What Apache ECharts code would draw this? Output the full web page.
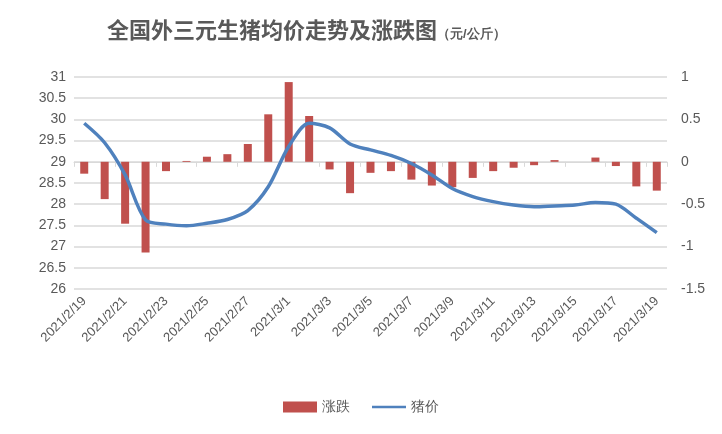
<!DOCTYPE html><html><head><meta charset="utf-8"><script src="https://cdn.jsdelivr.net/npm/echarts@6/dist/echarts.min.js"></script></head><body style="margin:0;background:#fff"><div id="c" style="width:722px;height:434px"></div><script>
const categories=[];for(let d=19;d<=28;d++)categories.push('2021/2/'+d);for(let d=1;d<=19;d++)categories.push('2021/3/'+d);
const price=[29.91,29.45,28.69,27.63,27.53,27.49,27.55,27.64,27.85,28.41,29.36,29.91,29.80,29.42,29.28,29.15,28.96,28.69,28.37,28.18,28.06,27.98,27.94,27.96,27.98,28.04,28.00,27.67,27.33];
const change=[-0.14,-0.44,-0.73,-1.07,-0.11,0.01,0.06,0.09,0.21,0.56,0.94,0.54,-0.09,-0.37,-0.13,-0.11,-0.21,-0.28,-0.30,-0.19,-0.11,-0.07,-0.04,0.02,0,0.05,-0.05,-0.29,-0.34];
const ch=echarts.init(document.getElementById('c'));
const lab={color:'#595959',fontSize:14,fontFamily:'Liberation Sans'};
ch.setOption({animation:false,
title:{text:'{a|全国外三元生猪均价走势及涨跌图}{b|（元/公斤）}',left:102,top:14,textStyle:{rich:{a:{fontSize:22,color:'#595959',fontFamily:'Noto Sans CJK SC',fontWeight:'bold'},b:{fontSize:13,color:'#595959',fontWeight:'bold',verticalAlign:'bottom',padding:[8,0,0,0]}}}},
legend:{top:395,left:'center',itemGap:22,textStyle:{fontSize:14,color:'#595959'},data:[{name:'涨跌',icon:'rect'},{name:'猪价',icon:'path://M0,4H40V7H0Z'}],itemWidth:34,itemHeight:11},
grid:{left:74,right:55,top:77,bottom:145},
xAxis:{type:'category',data:categories,axisTick:{show:true,lineStyle:{color:'#d9d9d9'}},axisLine:{lineStyle:{color:'#d9d9d9'}},
 axisLabel:{...lab,rotate:45,interval:1,fontSize:13,margin:10}},
yAxis:[{type:'value',min:26,max:31,interval:0.5,axisLabel:lab,splitLine:{lineStyle:{color:'#d9d9d9',width:1.5}},axisLine:{show:false}},
 {type:'value',min:-1.5,max:1,interval:0.5,axisLabel:{...lab,margin:14},splitLine:{show:false},axisLine:{show:false}}],
series:[{name:'涨跌',type:'bar',yAxisIndex:1,data:change,barWidth:8,itemStyle:{color:'#C0504D'}},
{name:'猪价',type:'line',data:price,smooth:0.3,symbol:'none',lineStyle:{color:'#4F81BD',width:3.5},itemStyle:{color:'#4F81BD'}}]});
</script></body></html>
